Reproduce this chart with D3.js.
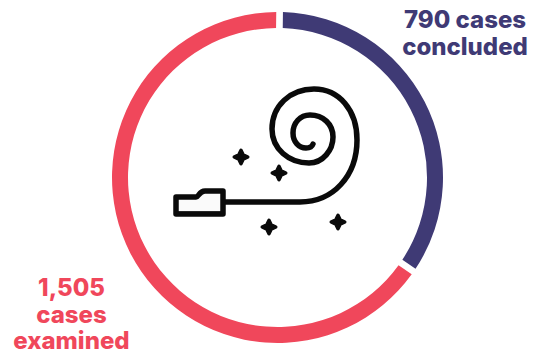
<!DOCTYPE html>
<html>
<head>
<meta charset="utf-8">
<script src="https://cdn.jsdelivr.net/npm/d3@7"></script>
<style>
  html, body { margin: 0; padding: 0; background: #fff; }
  svg { display: block; }
  text { font-family: Inter, "Open Sans", sans-serif; font-weight: 800; text-anchor: middle; }
</style>
</head>
<body>
<svg id="chart" width="537" height="354"></svg>
<script>
// Case counts shown around the ring
const categories = ["concluded", "examined"];
const caseCounts = [790, 1505];
const colors = ["#3f3a75", "#f0475b"];
const labelLines = [["790 cases", "concluded"], ["1,505", "cases", "examined"]];

// Confetti specks around the party blower
const sparkles = [[241, 157], [279, 173], [269, 227], [338, 222]];

const svg = d3.select("#chart");
const cx = 277.5, cy = 177.5, outerR = 165.5, innerR = 149.5;
const startAngle = 0.0127;

const color = d3.scaleOrdinal().domain(categories).range(colors);
const pie = d3.pie().sort(null).value((d, i) => caseCounts[i])
  .startAngle(startAngle).endAngle(startAngle + 2 * Math.PI);
const arc = d3.arc().innerRadius(innerR).outerRadius(outerR).padAngle(0.03);

svg.append("g")
  .attr("transform", `translate(${cx},${cy})`)
  .selectAll("path")
  .data(pie(categories))
  .join("path")
  .attr("d", arc)
  .attr("fill", d => color(d.data));

// Party blower icon
const icon = svg.append("g").attr("fill", "none").attr("stroke", "#0a0a0a")
  .attr("stroke-linecap", "round").attr("stroke-linejoin", "round");

icon.append("path").attr("stroke-width", 5.5)
  .attr("d", "M225,202 L300,202 C333,202 357,176 357,140 C357,110 339,89 314,89 C290,89 272,106 272,129 C272,149 289,163 309,163 C323,163 333,150 333,137 C333,124 323,115 310,115 C300,115 293,123 293,133 C293,142 299,148 306,148 C309,148 312,147 313,144");

icon.append("path").attr("stroke-width", 5.5).attr("fill", "#fafafa")
  .attr("d", "M176,197 L196,197 C199,197 199,191 205,191 L223,191 L223,214 L176,214 Z");
icon.append("path").attr("stroke-width", 3)
  .attr("d", "M176,213 L223,213");

// Four-pointed specks with rounded tips and a pinched waist
const speck = "M0,-6.8 L2.2,-2.2 L6.8,0 L2.2,2.2 L0,6.8 L-2.2,2.2 L-6.8,0 L-2.2,-2.2 Z";
svg.append("g").selectAll("path")
  .data(sparkles)
  .join("path")
  .attr("d", speck)
  .attr("transform", d => `translate(${d[0]},${d[1]})`)
  .attr("fill", "#0a0a0a")
  .attr("stroke", "#0a0a0a")
  .attr("stroke-width", 3.4)
  .attr("stroke-linejoin", "round");

// Labels
const labelAnchors = [{ x: 465, y: 28 }, { x: 71.5, y: 296 }];
const lineGap = 26.5;
labelLines.forEach((lines, i) => {
  svg.append("text")
    .attr("font-size", 24)
    .attr("fill", colors[i])
    .selectAll("tspan")
    .data(lines)
    .join("tspan")
    .attr("x", labelAnchors[i].x)
    .attr("y", (d, j) => labelAnchors[i].y + j * lineGap)
    .text(d => d);
});
</script>
</body>
</html>
